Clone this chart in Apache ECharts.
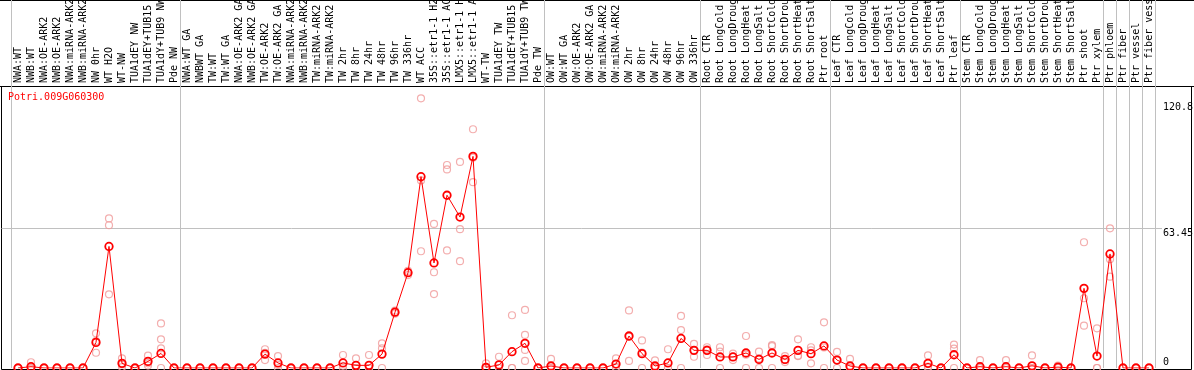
<!DOCTYPE html>
<html>
<head>
<meta charset="utf-8">
<script src="https://cdn.jsdelivr.net/npm/echarts@6/dist/echarts.min.js"></script>
<style>
html,body{margin:0;padding:0;background:#fff;}
#chart{width:1194px;height:370px;}
</style>
</head>
<body>
<div id="chart"></div>
<script>
const geneName = 'Potri.009G060300';

const categories = [
  'NWA:WT','NWB:WT','NWA:OE-ARK2','NWB:OE-ARK2','NWA:miRNA-ARK2','NWB:miRNA-ARK2','NW 0hr','WT H2O','WT-NW',
  'TUA1dEY NW','TUA1dEY+TUB15 NW','TUA1dY+TUB9 NW','Pde NW',
  'NWA:WT GA','NWBWT GA','TW:WT','TW:WT GA','NWA:OE-ARK2 GA','NWB:OE-ARK2 GA','TW:OE-ARK2','TW:OE-ARK2 GA',
  'NWA:miRNA-ARK2','NWB:miRNA-ARK2','TW:miRNA-ARK2','TW:miRNA-ARK2','TW 2hr','TW 8hr','TW 24hr','TW 48hr',
  'TW 96hr','TW 336hr','WT ACC','35S::etr1-1 H2O','35S::etr1-1 ACC','LMX5::etr1-1 H2O','LMX5::etr1-1 ACC',
  'WT-TW','TUA1dEY TW','TUA1dEY+TUB15 TW','TUA1dY+TUB9 TW','Pde TW',
  'OW:WT','OW:WT GA','OW:OE-ARK2','OW:OE-ARK2 GA','OW:miRNA-ARK2','OW:miRNA-ARK2','OW 2hr','OW 8hr',
  'OW 24hr','OW 48hr','OW 96hr','OW 336hr',
  'Root CTR','Root LongCold','Root LongDrought','Root LongHeat','Root LongSalt','Root ShortCold',
  'Root ShortDrought','Root ShortHeat','Root ShortSalt','Ptr root',
  'Leaf CTR','Leaf LongCold','Leaf LongDrought','Leaf LongHeat','Leaf LongSalt','Leaf ShortCold',
  'Leaf ShortDrought','Leaf ShortHeat','Leaf ShortSalt','Ptr leaf',
  'Stem CTR','Stem LongCold','Stem LongDrought','Stem LongHeat','Stem LongSalt','Stem ShortCold',
  'Stem ShortDrought','Stem ShortHeat','Stem ShortSalt','Ptr shoot','Ptr xylem',
  'Ptr phloem','Ptr fiber','Ptr vessel','Ptr fiber vessel'
];

// mean expression per sample
const means = [
  0, 0.6, 0, 0, 0, 0, 11.6, 55.1, 2.1, 0, 3.0, 6.6, 0,
  0, 0, 0, 0, 0, 0, 6.3, 2.3, 0, 0, 0, 0, 2.3, 1.2, 1.2, 6.3, 25.3, 43.2, 86.7,
  47.6, 78.3, 68.4, 95.9, 0.3, 1.4, 7.4, 11.2, 0,
  0.9, 0, 0, 0, 0, 1.8, 14.5, 6.5, 0.9, 2.3, 13.4, 8.0,
  8.0, 5.0, 5.0, 6.8, 3.9, 6.8, 3.9, 8.0, 6.5, 10.0,
  3.6, 0.9, 0, 0, 0, 0, 0, 2.1, 0, 6.0,
  0, 0.6, 0, 0.6, 0, 1.0, 0, 0.4, 0, 36.1, 5.4,
  51.7, 0, 0, 0
];

// individual replicate values per sample
const replicates = [
  [0,0],[2.6,0,0],[0,0],[0,0],[0,0],[0,0],[15.7,12.2,6.9],[67.8,64.7,33.4],[4.4,1.6,0.4],
  [0,0],[5.6,2.1,1.1],[20.2,13.0,8.9,0],[0,0],
  [0,0],[0,0],[0,0],[0,0],[0,0],[0,0],[8.5,6.9,3.6],[5.4,1.4,0],
  [0,0],[0,0],[0,0],[0,0],[5.9,1.0,0],[4.4,0,0],[5.9,0,0],[11.2,8.9,0],
  [26.0,25.2,24.6],[44.0,43.2,42.1],[122.2,85.0,52.9],[65.3,43.4,33.5],[92.0,90.0,53.3],[93.4,62.9,48.4],[108.2,95.3,84.2],
  [2.1,0,0],[5.1,0,0],[23.9,0,0],[26.3,15.0,8.2,3.2],[0,0],
  [4.1,0,0],[0,0],[0,0],[0,0],[0,0],[4.4,0.5,0],[26.1,14.2,3.2],[12.5,7.0,0],
  [3.5,0,0],[8.5,0,0],[23.6,17.2,0],[10.9,8.0,5.1],
  [9.4,8.5,5.9],[9.4,7.4,0],[6.5,5.0,3.6],[14.5,6.0,0],[7.4,4.3,0],[10.4,9.9,0],
  [5.4,3.6,2.7],[13.0,5.6,5.4],[9.4,8.0,2.1],[20.7,9.3,0],
  [7.3,3.6,0],[4.1,0,0],[0,0],[0,0],[0,0],[0,0],
  [0,0],[5.7,0.6,0],[0,0],[10.6,8.8,0],
  [0,0],[3.6,0,0],[0,0],[3.6,0,0],[0,0],[5.7,0,0],
  [0,0],[1.1,0.2,0],[0,0],[57.0,31.6,19.2],[18.0,0,0],
  [63.3,49.3,41.4],[0,0],[0,0],[0,0]
];

const yTickLabels = [0, 63.45, 120.8];
const yGridLines = [63.45];
const yMax = 127.8;
// index of first sample of each group (vertical separators)
const groupStarts = [0, 13, 41, 53, 63, 73, 84, 85, 86, 87];

const repPoints = [];
replicates.forEach((vals, i) => vals.forEach(v => repPoints.push([i, v])));

const FONT = 'DejaVu Sans Mono';
const PLOT_L = 11.5, PLOT_W = 1144, PLOT_TOP = 86, PLOT_BOTTOM = 2;
const splitFn = (idx) => groupStarts.indexOf(idx) >= 0;
const OB = {outerBoundsMode: 'none', containLabel: false};

const chart = echarts.init(document.getElementById('chart'), null, {renderer: 'canvas'});
chart.setOption({
  animation: false,
  backgroundColor: '#fff',
  title: {
    text: geneName, left: 3, top: 87,
    textStyle: {color: '#ff0000', fontFamily: FONT, fontSize: 10, fontWeight: 'normal'}
  },
  grid: [
    Object.assign({left: PLOT_L, width: PLOT_W, top: PLOT_TOP, bottom: PLOT_BOTTOM}, OB),           // 0 data
    Object.assign({left: PLOT_L, width: PLOT_W, top: 0, height: PLOT_TOP}, OB),                     // 1 label band
    Object.assign({left: 1.5, right: 2.5, top: 86.5, bottom: 0.5, show: true, borderColor: '#000', borderWidth: 1, backgroundColor: 'transparent'}, OB), // 2 frame
    Object.assign({left: -10, right: -10, top: 0.5, height: 86, show: true, borderColor: '#000', borderWidth: 1, backgroundColor: 'transparent'}, OB),  // 3 top band frame
    Object.assign({left: 1.5, right: 32, top: PLOT_TOP, bottom: PLOT_BOTTOM}, OB)                   // 4 value labels
  ],
  xAxis: [
    {gridIndex: 0, type: 'category', data: categories, position: 'top', boundaryGap: true,
     axisLine: {show: false}, axisTick: {show: false},
     axisLabel: {show: true, interval: 0, rotate: 90, margin: 3, color: '#000', fontFamily: FONT, fontSize: 10, hideOverlap: false},
     splitLine: {show: true, interval: splitFn, lineStyle: {color: '#c0c0c0', width: 1}}},
    {gridIndex: 1, type: 'category', data: categories, boundaryGap: true,
     axisLine: {show: false}, axisTick: {show: false}, axisLabel: {show: false},
     splitLine: {show: true, interval: splitFn, lineStyle: {color: '#c0c0c0', width: 1}}},
    {gridIndex: 2, type: 'value', show: false},
    {gridIndex: 3, type: 'value', show: false},
    {gridIndex: 4, type: 'value', show: false}
  ],
  yAxis: [
    {gridIndex: 0, type: 'value', min: 0, max: yMax, show: false},
    {gridIndex: 1, type: 'value', show: false},
    {gridIndex: 2, type: 'value', show: false},
    {gridIndex: 3, type: 'value', show: false},
    {gridIndex: 4, type: 'value', min: 0, max: yMax, position: 'right',
     axisLine: {show: false},
     axisTick: {show: false, customValues: yGridLines},
     splitLine: {show: true, lineStyle: {color: '#c0c0c0', width: 1}},
     axisLabel: {
       show: true, customValues: yTickLabels, margin: 1, color: '#000', fontFamily: FONT, fontSize: 10,
       formatter: v => (v === 0 ? '{z|0}' : '{n|' + v + '}'),
       rich: {
         z: {fontFamily: FONT, fontSize: 10, color: '#000', padding: [0, 0, 12, 0]},
         n: {fontFamily: FONT, fontSize: 10, color: '#000', padding: [11, 0, 0, 0]}
       }
     }}
  ],
  series: [
    {type: 'scatter', xAxisIndex: 0, yAxisIndex: 0, data: repPoints, symbol: 'circle', symbolSize: 7,
     itemStyle: {color: 'rgba(0,0,0,0)', borderColor: '#f09a9a', borderWidth: 1.2}, z: 3},
    {type: 'line', xAxisIndex: 0, yAxisIndex: 0, data: means, symbol: 'circle', symbolSize: 7.5, showAllSymbol: true,
     lineStyle: {color: '#ff0000', width: 1},
     itemStyle: {color: 'rgba(0,0,0,0)', borderColor: '#ff0000', borderWidth: 1.8}, z: 4}
  ]
});
</script>
</body>
</html>
